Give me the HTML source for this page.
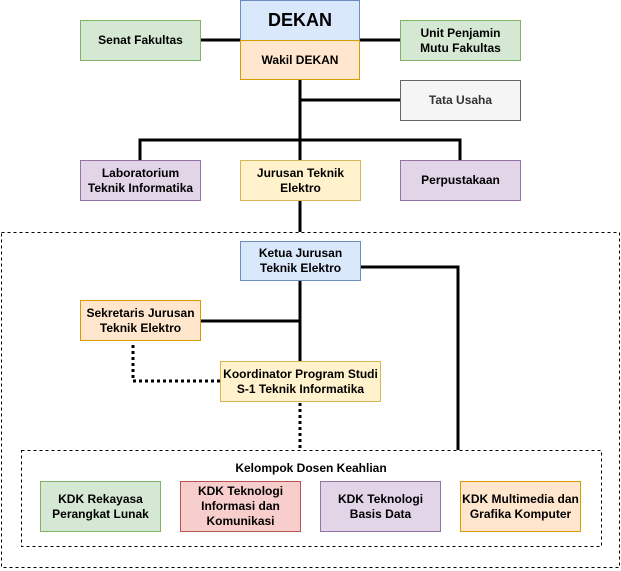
<!DOCTYPE html>
<html><head><meta charset="utf-8"><style>
body{margin:0;width:621px;height:571px;background:#fff;position:relative;overflow:hidden;font-family:"Liberation Sans",Arial,sans-serif;}
.b{position:absolute;box-sizing:border-box;border:1px solid;display:flex;align-items:center;justify-content:center;text-align:center;font-weight:bold;font-size:12px;line-height:15px;color:#000;}
.blue{background:#dae8fc;border-color:#6c8ebf}
.or{background:#ffe6cc;border-color:#d79b00}
.gr{background:#d5e8d4;border-color:#82b366}
.pu{background:#e1d5e7;border-color:#9673a6}
.ye{background:#fff2cc;border-color:#d6b656}
.re{background:#f8cecc;border-color:#b85450}
.gy{background:#f5f5f5;border-color:#666;color:#333}
svg{position:absolute;left:0;top:0}
</style></head><body>
<svg width="621" height="571">
<g stroke="#000" stroke-width="3" fill="none">
<line x1="200" y1="40" x2="240" y2="40"/>
<line x1="360" y1="40" x2="400" y2="40"/>
<line x1="300" y1="80" x2="300" y2="160"/>
<line x1="300" y1="100" x2="400" y2="100"/>
<polyline points="140,160 140,140 460,140 460,160"/>
<line x1="300" y1="200" x2="300" y2="232"/>
<line x1="300" y1="280" x2="300" y2="362"/>
<line x1="200" y1="321" x2="300" y2="321"/>
<polyline points="360,267 458,267 458,450"/>
</g>
<g stroke="#000" stroke-width="3" fill="none" stroke-dasharray="3,3">
<polyline points="133,345 133,381 220,381"/>
<line x1="300" y1="403" x2="300" y2="448"/>
</g>
<g stroke="#000" stroke-width="1" fill="none" stroke-dasharray="3,3">
<rect x="1.5" y="232.5" width="618" height="335"/>
<rect x="21.5" y="450.5" width="580" height="96"/>
</g>
<text x="311" y="472" text-anchor="middle" font-family="Liberation Sans, Arial, sans-serif" font-weight="bold" font-size="12">Kelompok Dosen Keahlian</text>
</svg>
<div class="b blue" style="left:240px;top:0;width:120px;height:41px;font-size:18px;">DEKAN</div>
<div class="b or" style="left:240px;top:40px;width:120px;height:40px;">Wakil DEKAN</div>
<div class="b gr" style="left:80px;top:20px;width:121px;height:41px;">Senat Fakultas</div>
<div class="b gr" style="left:400px;top:20px;width:121px;height:41px;">Unit Penjamin<br>Mutu Fakultas</div>
<div class="b gy" style="left:400px;top:80px;width:121px;height:41px;">Tata Usaha</div>
<div class="b pu" style="left:80px;top:160px;width:121px;height:41px;">Laboratorium<br>Teknik Informatika</div>
<div class="b ye" style="left:240px;top:160px;width:121px;height:41px;">Jurusan Teknik<br>Elektro</div>
<div class="b pu" style="left:400px;top:160px;width:121px;height:41px;">Perpustakaan</div>
<div class="b blue" style="left:240px;top:241px;width:121px;height:40px;">Ketua Jurusan<br>Teknik Elektro</div>
<div class="b or" style="left:80px;top:300px;width:121px;height:41px;">Sekretaris Jurusan<br>Teknik Elektro</div>
<div class="b ye" style="left:220px;top:361px;width:161px;height:41px;">Koordinator Program Studi<br>S-1 Teknik Informatika</div>
<div class="b gr" style="left:40px;top:481px;width:121px;height:51px;">KDK Rekayasa<br>Perangkat Lunak</div>
<div class="b re" style="left:180px;top:481px;width:121px;height:51px;">KDK Teknologi<br>Informasi dan<br>Komunikasi</div>
<div class="b pu" style="left:320px;top:481px;width:121px;height:51px;">KDK Teknologi<br>Basis Data</div>
<div class="b or" style="left:460px;top:481px;width:121px;height:51px;">KDK Multimedia dan<br>Grafika Komputer</div>
</body></html>
